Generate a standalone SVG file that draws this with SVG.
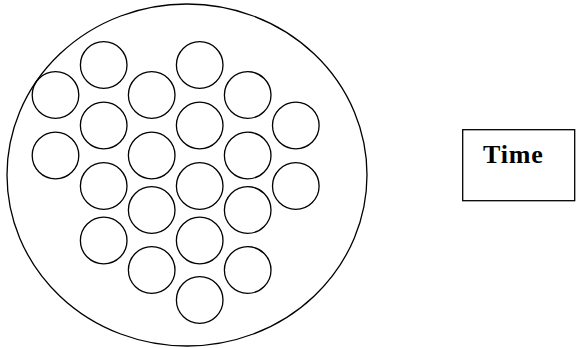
<svg xmlns="http://www.w3.org/2000/svg" width="577" height="348" viewBox="0 0 577 348">
  <style>
    .ln { fill: #fff; stroke: #000; stroke-width: 1.3; }
    .c { fill: none; stroke: #000; stroke-width: 1.3; }
    .lbl { font-family: "Liberation Serif", "Times New Roman", serif; font-weight: bold; font-size: 26px; letter-spacing: 0.8px; fill: #000; }
  </style>
  <rect width="577" height="348" fill="#fff"/>
  <g id="container">
    <ellipse class="ln" cx="187" cy="175" rx="180" ry="171"/>
  </g>
  <g id="circles">
    <g id="c1"><circle class="c" cx="103.7" cy="65" r="23.3"/></g>
    <g id="c2"><circle class="c" cx="199.7" cy="65" r="23.3"/></g>
    <g id="c3"><circle class="c" cx="55.5" cy="95" r="23.3"/></g>
    <g id="c4"><circle class="c" cx="151.7" cy="95" r="23.3"/></g>
    <g id="c5"><circle class="c" cx="247.7" cy="95" r="23.3"/></g>
    <g id="c6"><circle class="c" cx="103.7" cy="125.5" r="23.3"/></g>
    <g id="c7"><circle class="c" cx="199.7" cy="125.5" r="23.3"/></g>
    <g id="c8"><circle class="c" cx="295.8" cy="125.5" r="23.3"/></g>
    <g id="c9"><circle class="c" cx="55.5" cy="155.5" r="23.3"/></g>
    <g id="c10"><circle class="c" cx="151.7" cy="155.5" r="23.3"/></g>
    <g id="c11"><circle class="c" cx="247.7" cy="155.5" r="23.3"/></g>
    <g id="c12"><circle class="c" cx="103.7" cy="186" r="23.3"/></g>
    <g id="c13"><circle class="c" cx="199.7" cy="186" r="23.3"/></g>
    <g id="c14"><circle class="c" cx="295.8" cy="186" r="23.3"/></g>
    <g id="c15"><circle class="c" cx="151.7" cy="210" r="23.3"/></g>
    <g id="c16"><circle class="c" cx="247.7" cy="210" r="23.3"/></g>
    <g id="c17"><circle class="c" cx="103.7" cy="240.5" r="23.3"/></g>
    <g id="c18"><circle class="c" cx="199.7" cy="240.5" r="23.3"/></g>
    <g id="c19"><circle class="c" cx="151.7" cy="270" r="23.3"/></g>
    <g id="c20"><circle class="c" cx="247.7" cy="270" r="23.3"/></g>
    <g id="c21"><circle class="c" cx="199.7" cy="300" r="23.3"/></g>
  </g>
  <g id="time">
    <rect class="ln" x="462.7" y="129.7" width="112" height="71"/>
    <text class="lbl" x="483" y="163">Time</text>
  </g>
</svg>
